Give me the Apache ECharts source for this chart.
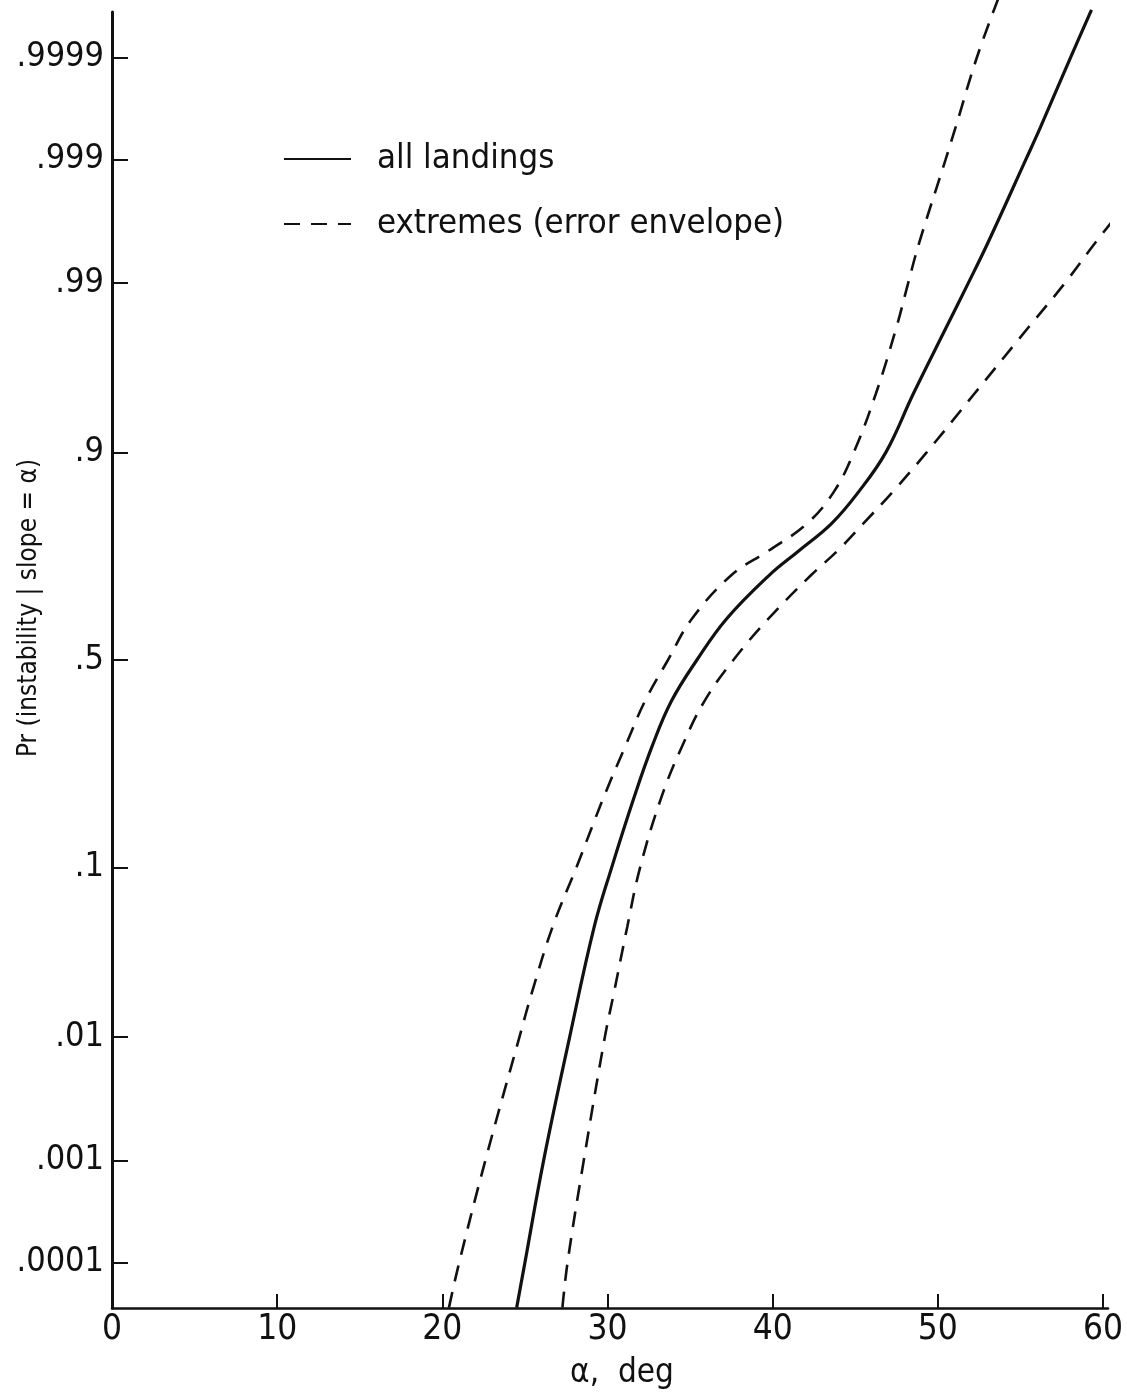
<!DOCTYPE html>
<html>
<head>
<meta charset="utf-8">
<title>Pr (instability | slope = α)</title>
<script src="https://cdn.jsdelivr.net/npm/echarts@6/dist/echarts.min.js"></script>
<style>
  html, body { margin: 0; padding: 0; background: #fff; }
  #chart { width: 1127px; height: 1392px; }
</style>
</head>
<body>
<div id="chart"></div>
<script>
// Slope angle alpha (deg) at which each curve reaches the given probability.
const allLandingsProb  = [0.000032, 0.0001, 0.001, 0.01, 0.05, 0.1, 0.2, 0.3, 0.4, 0.5, 0.6, 0.7, 0.75, 0.8, 0.85, 0.9, 0.95, 0.98, 0.99, 0.995, 0.999, 0.9995, 0.9999, 0.99997];
const allLandingsAlpha = [24.50, 25.00, 26.13, 27.71, 29.20, 30.25, 31.63, 32.73, 33.87, 35.41, 37.20, 39.80, 41.59, 43.56, 45.19, 46.85, 48.52, 50.51, 51.84, 53.03, 55.33, 56.22, 58.03, 59.30];

const upperBoundProb  = [0.000032, 0.0001, 0.001, 0.01, 0.02, 0.05, 0.1, 0.2, 0.3, 0.4, 0.5, 0.6, 0.7, 0.75, 0.8, 0.85, 0.9, 0.95, 0.98, 0.99, 0.995, 0.999, 0.9995, 0.9999, 0.99998];
const upperBoundAlpha = [20.40, 21.02, 22.60, 24.67, 25.42, 26.68, 28.11, 29.79, 31.11, 32.27, 33.66, 35.10, 37.51, 39.75, 42.07, 43.69, 44.91, 46.25, 47.49, 48.20, 48.87, 50.47, 51.08, 52.36, 53.75];

const lowerBoundProb  = [0.000032, 0.0001, 0.001, 0.01, 0.02, 0.05, 0.1, 0.2, 0.3, 0.4, 0.5, 0.6, 0.7, 0.75, 0.8, 0.85, 0.9, 0.95, 0.98, 0.99, 0.995, 0.997];
const lowerBoundAlpha = [27.27, 27.58, 28.56, 29.84, 30.39, 31.20, 31.97, 33.28, 34.55, 35.87, 37.62, 39.73, 42.33, 43.93, 45.48, 47.25, 49.32, 52.22, 55.49, 57.69, 59.53, 60.87];

// Probability-scale ticks
const probTicks  = [0.0001, 0.001, 0.01, 0.1, 0.5, 0.9, 0.99, 0.999, 0.9999];
const probLabels = ['.0001', '.001', '.01', '.1', '.5', '.9', '.99', '.999', '.9999'];
const alphaTicks = [0, 10, 20, 30, 40, 50, 60];

const seriesNames = ['all landings', 'extremes (error envelope)'];

// Inverse standard normal CDF (Acklam) -> normal probability paper scale
function probit(p) {
  const a = [-3.969683028665376e+01, 2.209460984245205e+02, -2.759285104469687e+02, 1.383577518672690e+02, -3.066479806614716e+01, 2.506628277459239e+00];
  const b = [-5.447609879822406e+01, 1.615858368580409e+02, -1.556989798598866e+02, 6.680131188771972e+01, -1.328068155288572e+01];
  const c = [-7.784894002430293e-03, -3.223964580411365e-01, -2.400758277161838e+00, -2.549732539343734e+00, 4.374664141464968e+00, 2.938163982698783e+00];
  const d = [7.784695709041462e-03, 3.224671290700398e-01, 2.445134137142996e+00, 3.754408661907416e+00];
  const pLow = 0.02425, pHigh = 1 - pLow;
  let q, r;
  if (p < pLow) {
    q = Math.sqrt(-2 * Math.log(p));
    return (((((c[0]*q+c[1])*q+c[2])*q+c[3])*q+c[4])*q+c[5]) / ((((d[0]*q+d[1])*q+d[2])*q+d[3])*q+1);
  }
  if (p > pHigh) {
    q = Math.sqrt(-2 * Math.log(1 - p));
    return -(((((c[0]*q+c[1])*q+c[2])*q+c[3])*q+c[4])*q+c[5]) / ((((d[0]*q+d[1])*q+d[2])*q+d[3])*q+1);
  }
  q = p - 0.5; r = q * q;
  return (((((a[0]*r+a[1])*r+a[2])*r+a[3])*r+a[4])*r+a[5])*q / (((((b[0]*r+b[1])*r+b[2])*r+b[3])*r+b[4])*r+1);
}

function toPoints(alphas, probs) {
  return alphas.map((x, i) => [x, probit(probs[i])]);
}

const tickZ = probTicks.map(probit);
function probLabel(z) {
  let best = 0;
  tickZ.forEach((t, i) => { if (Math.abs(t - z) < Math.abs(tickZ[best] - z)) best = i; });
  return probLabels[best];
}

const numFont  = "'Liberation Sans Narrow', 'DejaVu Sans Condensed', sans-serif";
const textFont = "'DejaVu Sans Condensed', 'Liberation Sans Narrow', sans-serif";
const ink = '#111';

const chart = echarts.init(document.getElementById('chart'), null, { renderer: 'canvas' });

const dashed = { color: ink, width: 2.6, type: [16, 11] };
const curveBase = { type: 'line', showSymbol: false, symbol: 'none', smooth: 0.4, clip: false, itemStyle: { color: ink } };

chart.setOption({
  backgroundColor: '#fff',
  animation: false,
  color: [ink, ink, ink],
  grid: { left: 112, right: 19, top: 12, bottom: 84, outerBoundsMode: 'none' },
  legend: {
    data: seriesNames,
    orient: 'vertical',
    left: 278,
    top: 134,
    itemWidth: 67,
    itemHeight: 20,
    itemGap: 25,
    itemStyle: { opacity: 0 },
    textStyle: { fontFamily: textFont, fontSize: 34.5, color: ink, lineHeight: 40, padding: [0, 0, 0, 21] }
  },
  xAxis: {
    type: 'value',
    min: 0,
    max: 60.3,
    name: 'α,  deg',
    nameLocation: 'middle',
    nameGap: 49,
    nameMoveOverlap: false,
    nameTextStyle: { fontFamily: textFont, fontSize: 33, color: ink, padding: [0, 0, 0, 24] },
    axisLine: { onZero: false, lineStyle: { color: ink, width: 2.5 } },
    axisTick: { inside: true, length: 14, customValues: alphaTicks, lineStyle: { color: ink, width: 2 } },
    axisLabel: { customValues: alphaTicks, margin: 4, fontFamily: numFont, fontSize: 35, color: ink },
    splitLine: { show: false }
  },
  yAxis: {
    type: 'value',
    min: -4,
    max: 4,
    name: 'Pr (instability | slope = α)',
    nameLocation: 'middle',
    nameRotate: 90,
    nameGap: 70,
    nameMoveOverlap: false,
    nameTextStyle: { fontFamily: textFont, fontSize: 26, color: ink, padding: [0, 0, 0, 104] },
    axisLine: { onZero: false, lineStyle: { color: ink, width: 3 } },
    axisTick: { inside: true, length: 16, customValues: tickZ, lineStyle: { color: ink, width: 2 } },
    axisLabel: { customValues: tickZ, margin: 8, fontFamily: numFont, fontSize: 34, color: ink, formatter: probLabel },
    splitLine: { show: false }
  },
  series: [
    Object.assign({}, curveBase, {
      name: seriesNames[0],
      data: toPoints(allLandingsAlpha, allLandingsProb),
      lineStyle: { color: ink, width: 3.2 }
    }),
    Object.assign({}, curveBase, {
      name: seriesNames[1],
      data: toPoints(upperBoundAlpha, upperBoundProb),
      lineStyle: dashed
    }),
    Object.assign({}, curveBase, {
      name: seriesNames[1],
      data: toPoints(lowerBoundAlpha, lowerBoundProb),
      lineStyle: dashed
    })
  ]
});
</script>
</body>
</html>
